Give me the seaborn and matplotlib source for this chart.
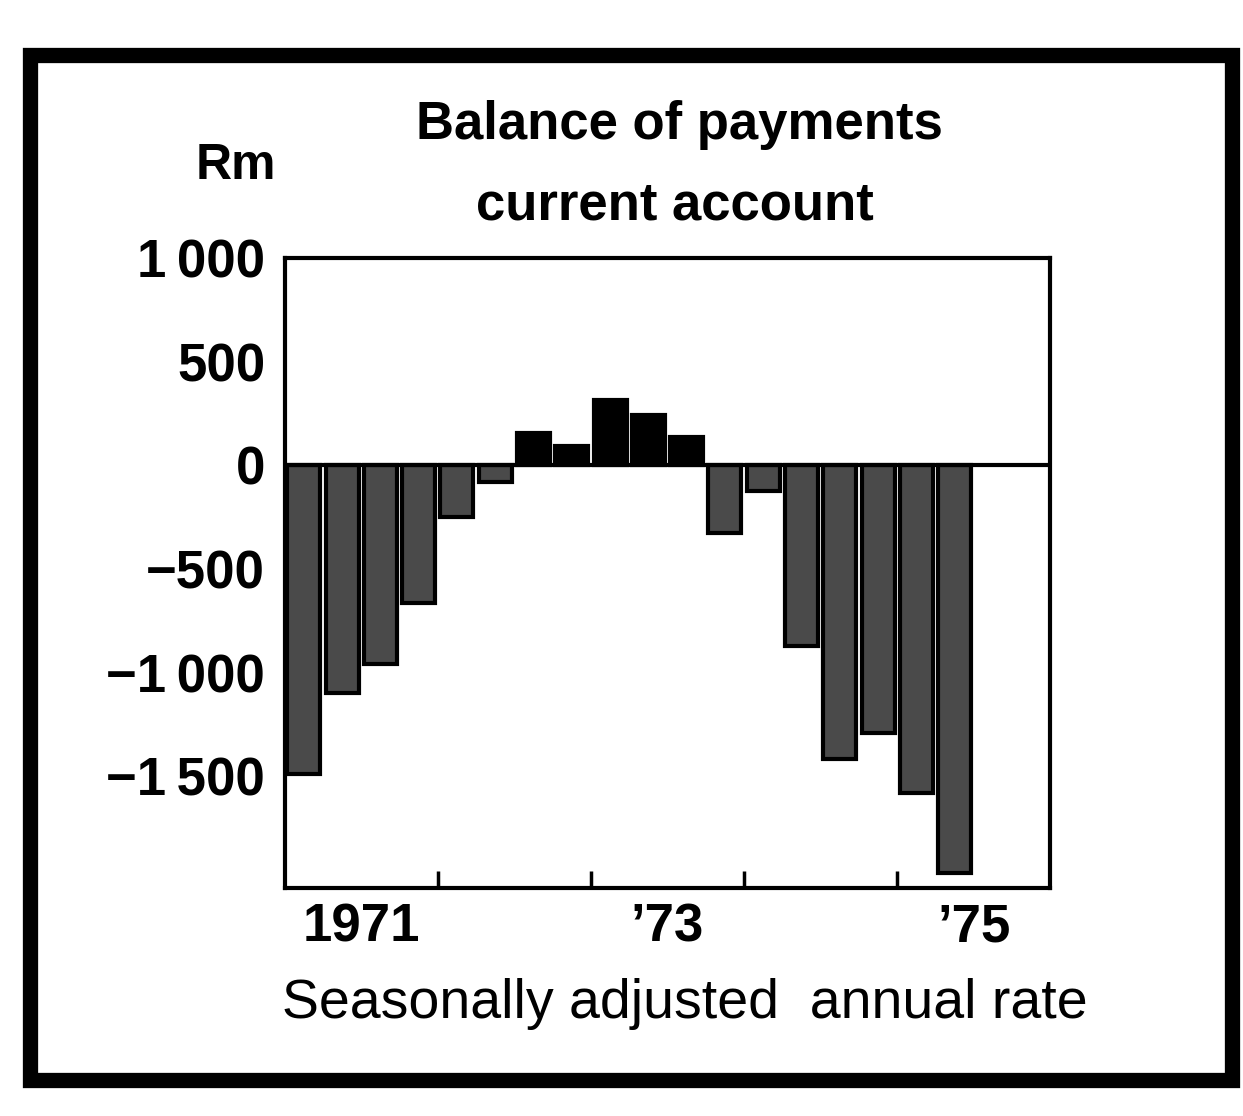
import pandas as pd
import seaborn as sns
import matplotlib.pyplot as plt
from matplotlib.patches import Rectangle

# quarterly current account balance, R million (1971 Q1 .. 1975 Q2)
quarters = ['71Q1', '71Q2', '71Q3', '71Q4', '72Q1', '72Q2', '72Q3', '72Q4',
            '73Q1', '73Q2', '73Q3', '73Q4', '74Q1', '74Q2', '74Q3', '74Q4',
            '75Q1', '75Q2']
balance = [-1490, -1100, -960, -665, -250, -80, 155, 95,
           315, 240, 135, -325, -125, -870, -1415, -1290,
           -1580, -1965]
year_labels = ['1971', '\u201973', '\u201975']
y_ticks = [1000, 500, 0, -500, -1000, -1500]
y_labels = ['1\u2009000', '500', '0', '\u2212500', '\u22121\u2009000', '\u22121\u2009500']

df = pd.DataFrame({'quarter': quarters, 'balance': balance})
df['sign'] = ['pos' if v > 0 else 'neg' for v in df['balance']]

sns.set_theme(style='white')
plt.rcParams['font.family'] = ['Liberation Sans Narrow', 'Liberation Sans', 'DejaVu Sans']
plt.rcParams['text.color'] = 'black'
plt.rcParams['xtick.color'] = 'black'
plt.rcParams['ytick.color'] = 'black'

fig = plt.figure(figsize=(12.43, 11.16), dpi=100)
ax = fig.add_axes([0.229, 0.204, 0.616, 0.565])

sns.barplot(data=df, x='quarter', y='balance', hue='sign',
            palette={'neg': '#4a4a4a', 'pos': 'black'}, dodge=False,
            legend=False, width=0.86, edgecolor='black', linewidth=3,
            saturation=1, ax=ax)

ax.axhline(0, color='black', lw=3, zorder=5)
ax.set_xlim(-0.5, 19.5)
ax.set_ylim(-2040, 1000)
ax.set_xlabel('')
ax.set_ylabel('')

# year boundaries as small inward ticks, labels centred in the year
ax.set_xticks([3.5, 7.5, 11.5, 15.5], minor=True)
ax.set_xticks([1.5, 9.5, 17.5])
ax.set_xticklabels(year_labels, fontsize=38, fontweight='bold', color='black')
ax.tick_params(axis='x', which='major', length=0, pad=10)
ax.tick_params(axis='x', which='minor', direction='in', length=12,
               width=2.5, color='black', bottom=True)

ax.set_yticks(y_ticks)
ax.set_yticklabels(y_labels, fontsize=38, fontweight='bold', color='black')
ax.tick_params(axis='y', length=0, pad=14)

for s in ax.spines.values():
    s.set_visible(True)
    s.set_color('black')
    s.set_linewidth(3)

fig.text(0.547, 0.888, 'Balance of payments', ha='center', va='center',
         fontsize=38, fontweight='bold')
fig.text(0.543, 0.816, 'current account', ha='center', va='center',
         fontsize=38, fontweight='bold')
fig.text(0.19, 0.851, 'Rm', ha='center', va='center',
         fontsize=36, fontweight='bold')
fig.text(0.551, 0.1, 'Seasonally adjusted  annual rate', ha='center',
         va='center', fontsize=40, family=['Liberation Sans', 'DejaVu Sans'])

# outer frame
fig.patches.append(Rectangle((0.024, 0.032), 0.967, 0.919, fill=False,
                             lw=11, edgecolor='black',
                             transform=fig.transFigure, figure=fig))

fig.savefig('out.png', dpi=100, facecolor='white')
